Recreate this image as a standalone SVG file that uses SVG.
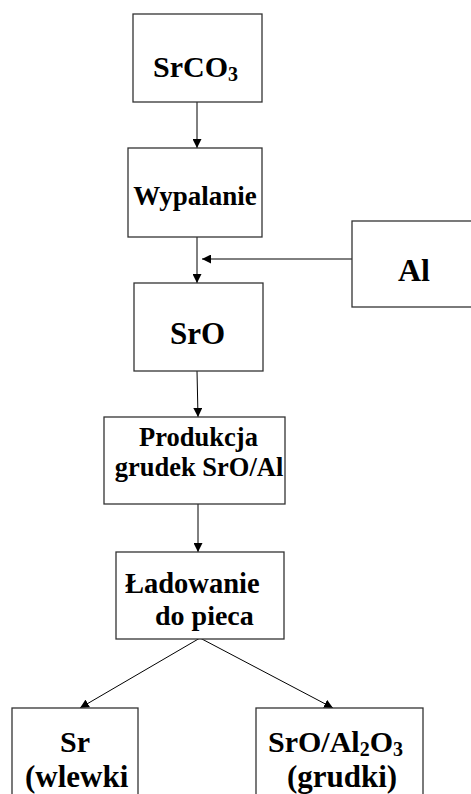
<svg xmlns="http://www.w3.org/2000/svg" width="471" height="794" viewBox="0 0 471 794">
<defs>
<marker id="ah" viewBox="0 0 10 10" refX="10" refY="5" markerWidth="9" markerHeight="9" markerUnits="userSpaceOnUse" orient="auto">
<path d="M0,0 L10,5 L0,10 Z" fill="#000"/>
</marker>
</defs>
<style>
.box{fill:#fff;stroke:#333;stroke-width:1.3}
.t{font-family:"Liberation Serif","Times New Roman",serif;font-weight:bold;fill:#000}
.c{stroke:#000;stroke-width:1;fill:none;marker-end:url(#ah)}
</style>
<rect width="471" height="794" fill="#fff"/>
<g id="connectors">
<line class="c" x1="197" y1="102" x2="197" y2="148"/>
<line class="c" x1="197" y1="237" x2="197" y2="283"/>
<line class="c" x1="352" y1="259" x2="202" y2="259"/>
<line class="c" x1="197" y1="371" x2="198" y2="417"/>
<line class="c" x1="198" y1="504" x2="198" y2="552"/>
<line class="c" x1="200" y1="638" x2="80" y2="708"/>
<line class="c" x1="200" y1="638" x2="333" y2="708"/>
</g>
<g id="srco3">
<rect class="box" x="133" y="14" width="129" height="88"/>
<text class="t" x="153" y="77" font-size="30">SrCO<tspan font-size="20" dy="4">3</tspan></text>
</g>
<g id="wypalanie">
<rect class="box" x="128" y="148" width="134" height="89"/>
<text class="t" x="195" y="205" font-size="27" text-anchor="middle">Wypalanie</text>
</g>
<g id="al">
<rect class="box" x="352" y="221" width="125" height="86"/>
<text class="t" x="414" y="281" font-size="32" text-anchor="middle">Al</text>
</g>
<g id="sro">
<rect class="box" x="134" y="283" width="129" height="88"/>
<text class="t" x="197.5" y="344" font-size="31" text-anchor="middle">SrO</text>
</g>
<g id="produkcja">
<rect class="box" x="104" y="417" width="181" height="87"/>
<text class="t" x="198.5" y="446" font-size="26.5" text-anchor="middle">Produkcja</text>
<text class="t" x="199" y="476" font-size="26.5" text-anchor="middle">grudek SrO/Al</text>
</g>
<g id="ladowanie">
<rect class="box" x="116" y="552" width="168" height="87"/>
<text class="t" x="125" y="593" font-size="28.5">Ładowanie</text>
<text class="t" x="155" y="625" font-size="28">do pieca</text>
</g>
<g id="sr">
<rect class="box" x="12" y="708" width="126" height="100"/>
<text class="t" x="75" y="752" font-size="30" text-anchor="middle">Sr</text>
<text class="t" x="25" y="787" font-size="31">(wlewki</text>
</g>
<g id="sro-al2o3">
<rect class="box" x="256" y="708" width="167" height="100"/>
<text class="t" x="268" y="752" font-size="30">SrO/Al<tspan font-size="20" dy="4">2</tspan><tspan dy="-4">O</tspan><tspan font-size="20" dy="4">3</tspan></text>
<text class="t" x="342" y="787" font-size="31" text-anchor="middle">(grudki)</text>
</g>
</svg>
